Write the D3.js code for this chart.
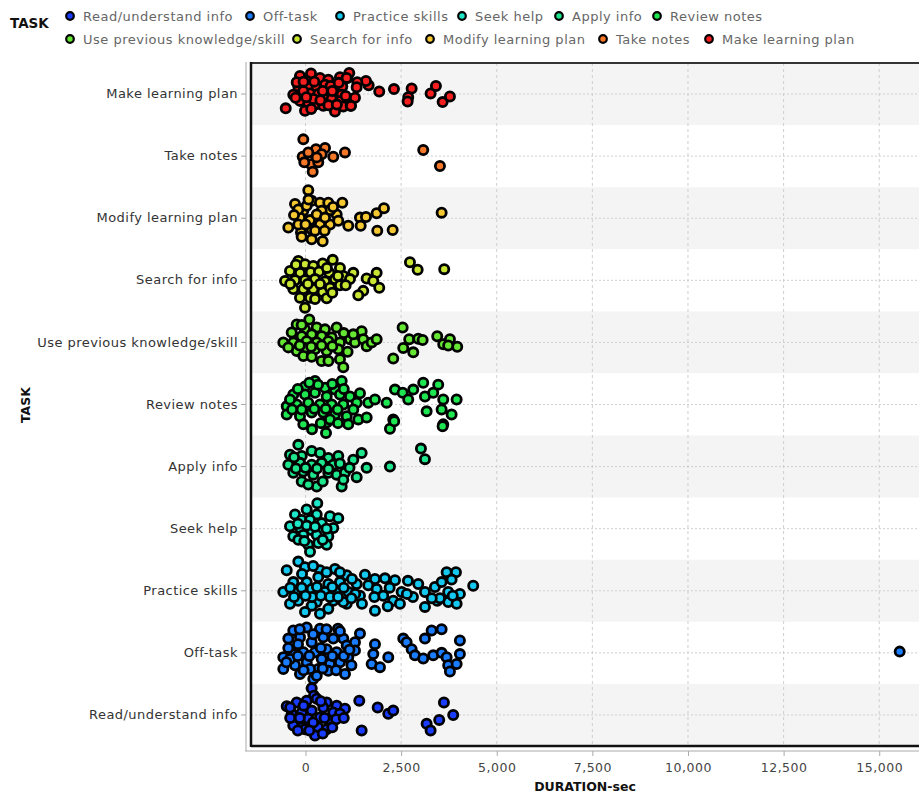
<!DOCTYPE html>
<html><head><meta charset="utf-8">
<script src="https://cdn.jsdelivr.net/npm/d3@7"></script>
<style>
html,body{margin:0;padding:0;background:#fff;}
svg{display:block;font-family:"DejaVu Sans",sans-serif;}
</style></head>
<body>
<svg id="chart" width="919" height="798"></svg>
<script>
// ---------- DATA ----------
const categories = ["Make learning plan","Take notes","Modify learning plan","Search for info",
  "Use previous knowledge/skill","Review notes","Apply info","Seek help","Practice skills",
  "Off-task","Read/understand info"];
const legendOrder = ["Read/understand info","Off-task","Practice skills","Seek help","Apply info",
  "Review notes","Use previous knowledge/skill","Search for info","Modify learning plan","Take notes","Make learning plan"];
const colors = ["#1a3cff","#1a7dff","#14c8f0","#1ee6c8","#1ee68c","#1ee650","#64e632","#c8e632","#f5c832","#f57828","#f51e1e"];
const xTicks = [0,2500,5000,7500,10000,12500,15000];

// each point: [duration in seconds, jitter (fraction of the row)]
const makePlan = [[-144,-0.29],[144,-0.33],[379,-0.26],[596,-0.23],[901,-0.27],[1092,-0.26],[31,-0.21],[-188,-0.12],[73,-0.11],[293,-0.11],[510,-0.15],[658,-0.13],[815,-0.06],[962,-0.12],[-319,0.01],[-99,0],[118,-0.01],[334,0],[536,0.04],[745,-0.02],[946,0.01],[-144,0.11],[73,0.15],[293,0.16],[510,0.08],[685,0.08],[920,0.11],[1118,0.11],[-13,0.27],[248,0.17],[771,0.28],[988,0.2],[1181,0.19],[465,0.19],[-230,-0.19],[-57,-0.05],[204,0.08],[-517,0.23],[1928,-0.04],[2313,-0.08],[2775,-0.09],[2686,0.05],[2670,0.12],[3271,-0.01],[3410,-0.13],[3585,0.13],[3776,0.04],[1651,-0.14],[1581,-0.21],[1354,-0.19],[1338,-0.11],[1293,0.06],[1189,0.19],[1144,-0.34],[1077,-0.26],
  [-50,-0.2],[230,-0.2],[450,-0.05],[700,-0.05],[870,-0.18],[-260,0.06],[20,0.05],[390,0.1],[600,0.18],[820,0.17],[150,0.24],[1050,0.03]];
const takeNotes = [[-57,-0.27],[274,-0.11],[510,-0.13],[726,0.01],[1032,-0.06],[-73,0.01],[144,0.13],[334,0.1],[188,0.25],[-31,0.1],[423,-0.03],[3078,-0.1],[3515,0.16],[73,-0.06],[293,0.02]];
const modifyPlan = [[73,-0.45],[-274,-0.23],[-57,-0.12],[162,-0.28],[379,-0.25],[596,-0.25],[962,-0.25],[815,-0.06],[640,-0.13],[423,-0.12],[118,0.03],[-144,-0.01],[-449,0.15],[-118,0.23],[162,0.18],[379,0.1],[640,0.1],[857,0.04],[1118,0.12],[1424,-0.01],[1442,0.12],[1581,-0.02],[1860,-0.08],[2051,-0.16],[1876,0.2],[2279,0.19],[3559,-0.09],[162,0.34],[449,0.37],[-188,-0.14],[31,-0.2],[293,-0.06],[510,-0.01],[-188,0.1],
  [-300,-0.05],[0,0.1],[250,0.2],[500,0.2],[720,-0.18],[80,-0.3],[-100,0.3]];
const searchInfo = [[-188,-0.31],[-13,-0.26],[204,-0.23],[449,-0.27],[711,-0.33],[901,-0.2],[-405,-0.15],[-144,-0.12],[136,-0.13],[353,-0.14],[622,-0.12],[1249,-0.12],[988,-0.07],[-536,0.01],[-274,0],[-13,0],[248,-0.02],[510,0.02],[771,-0.02],[1163,-0.02],[-319,0.14],[-57,0.14],[204,0.14],[449,0.19],[640,0.12],[901,0.08],[-144,0.28],[118,0.28],[554,0.29],[-13,0.44],[1599,-0.03],[1860,-0.12],[1772,0.01],[1928,0.12],[1510,0.17],[1380,0.24],[2731,-0.29],[2932,-0.17],[3627,-0.18],
  [-400,0.06],[60,0.06],[380,0.06],[700,0.2],[1050,0.08],[-250,-0.25],[560,-0.2],[850,-0.07],[250,0.3]];
const usePrevious = [[99,-0.37],[-230,-0.29],[-13,-0.21],[293,-0.24],[510,-0.21],[815,-0.24],[-361,-0.16],[-99,-0.1],[162,-0.13],[423,-0.1],[685,-0.08],[-580,0],[-319,0],[31,-0.02],[293,0],[596,-0.02],[901,0],[1163,-0.05],[1293,0],[1468,-0.18],[1249,-0.13],[1510,-0.05],[1599,0.06],[1730,0],[1860,-0.05],[-230,0.14],[-13,0.09],[248,0.11],[554,0.14],[857,0.11],[-57,0.22],[162,0.23],[423,0.3],[901,0.27],[988,0.4],[2540,-0.24],[2712,-0.05],[2948,-0.06],[3062,-0.04],[2556,0.09],[2817,0.16],[2294,0.26],[3444,-0.1],[3601,0.03],[3776,-0.05],[3967,0.07],[3731,0.05],
  [-450,0.08],[-150,0.05],[150,0.07],[420,0.05],[700,0.06],[1000,-0.15],[-100,-0.28],[600,0.3],[1100,0.15]];
const reviewNotes = [[248,-0.38],[946,-0.38],[-13,-0.29],[510,-0.27],[771,-0.24],[-319,-0.16],[-13,-0.16],[248,-0.19],[554,-0.13],[901,-0.16],[1424,-0.18],[1163,-0.13],[-491,0.03],[-230,0],[73,-0.03],[379,0],[685,0],[988,0],[1338,-0.03],[1641,-0.03],[1816,-0.08],[2122,-0.03],[2339,-0.24],[2540,-0.19],[2817,-0.24],[3078,-0.35],[3470,-0.32],[2686,-0.08],[3123,-0.13],[3339,-0.19],[3601,-0.08],[3951,-0.08],[3167,0.11],[3559,0.08],[3820,0.16],[-491,0.16],[-144,0.19],[162,0.13],[465,0.13],[771,0.16],[1077,0.19],[1380,0.24],[1599,0.21],[2294,0.24],[3601,0.32],[-57,0.32],[554,0.29],[536,0.46],[2208,0.39],[2320,0.27],[3585,0.35],[1118,0.32],[-405,-0.08],[327,-0.32],[640,0.24],[170,0.4],
  [-350,0.08],[-100,0.08],[230,0.07],[530,0.07],[840,0.08],[1250,0.08],[-200,-0.25],[100,-0.35],[700,-0.33],[1000,-0.25],[400,0.3],[850,0.3]];
const applyInfo = [[-188,-0.35],[162,-0.25],[379,-0.22],[-405,-0.19],[-99,-0.17],[596,-0.14],[857,-0.17],[1468,-0.22],[1249,-0.11],[-449,-0.03],[-144,-0.06],[162,-0.03],[423,-0.06],[726,-0.03],[1599,0.02],[2208,0],[-319,0.1],[-57,0.08],[204,0.13],[596,0.1],[815,0.13],[1032,0.1],[1338,0.17],[-99,0.24],[293,0.32],[946,0.32],[988,0.21],[73,0.29],[3018,-0.29],[3123,-0.12],
  [-250,0.03],[0,0.02],[300,0.03],[600,0.04],[900,-0.05],[-300,-0.15],[450,0.24],[1150,0.02]];
const seekHelp = [[308,-0.41],[31,-0.31],[-274,-0.23],[293,-0.23],[640,-0.2],[857,-0.17],[-99,-0.14],[118,-0.14],[423,-0.09],[-405,-0.04],[-144,-0.01],[162,0.02],[423,0.04],[726,-0.01],[-319,0.12],[-57,0.1],[293,0.1],[596,0.12],[-188,0.18],[73,0.26],[334,0.23],[554,0.26],[118,0.37],
  [-200,-0.08],[30,-0.05],[250,-0.03],[550,0],[-30,0.2],[450,0.18]];
const practiceSkills = [[-188,-0.47],[-491,-0.33],[-13,-0.38],[379,-0.33],[771,-0.35],[1077,-0.25],[1555,-0.26],[1816,-0.19],[2077,-0.2],[2339,-0.17],[-319,-0.14],[31,-0.14],[334,-0.22],[596,-0.11],[901,-0.14],[1338,-0.11],[1641,-0.09],[1860,-0.03],[-580,0.02],[-230,0],[162,-0.03],[510,0.02],[815,0],[1118,0.02],[1424,0.08],[2033,0.08],[2514,0.02],[2948,-0.11],[3123,0.02],[3384,-0.06],[3559,-0.14],[3690,-0.3],[3933,-0.3],[3731,0.02],[4037,0.05],[4385,-0.08],[-188,0.16],[293,0.18],[726,0.16],[1077,0.21],[2294,0.16],[3444,0.16],[162,0.24],[379,0.37],[-13,0.34],[596,0.29],[988,0.18],[1816,0.32],[2469,0.21],[3123,0.26],[3731,0.18],[3951,0.21],[3515,0.12],[3820,-0.18],[-91,-0.27],[170,0.1],[640,0.1],[1215,-0.19],[1476,0.21],[-405,0.21],[2678,-0.16],[2809,0.1],
  [-400,-0.05],[-100,-0.05],[300,-0.06],[700,-0.06],[1000,-0.05],[1300,0.05],[-300,0.1],[0,0.08],[400,0.08],[850,0.1],[1200,0.12],[200,-0.4],[550,-0.3],[900,-0.3],[1800,0.1],[2200,-0.05],[2150,0.25],[2650,0.05],[3300,0.12],[3850,0.08]];
const offTask = [[-319,-0.36],[31,-0.41],[379,-0.39],[726,-0.23],[-449,-0.23],[-144,-0.25],[162,-0.17],[465,-0.25],[988,-0.23],[1077,-0.12],[1293,-0.17],[-580,0.07],[-319,0.02],[-57,-0.01],[248,-0.01],[554,-0.06],[815,-0.01],[1293,-0.04],[-580,0.26],[-274,0.2],[31,0.15],[334,0.26],[640,0.18],[901,0.15],[1118,0.07],[-144,0.34],[204,0.42],[596,0.29],[1032,0.34],[-405,0.1],[423,0.1],[1424,-0.31],[1816,-0.14],[1772,0.02],[1730,0.18],[1947,0.23],[2164,0.07],[2556,-0.23],[2644,-0.17],[2775,-0.06],[2861,0.04],[3078,0.09],[3123,-0.23],[3298,-0.36],[3559,-0.38],[3339,0.04],[3559,0],[3690,0.07],[4037,-0.2],[4037,0.02],[3731,0.2],[3951,0.18],[3776,0.3],[293,0.37],[15535,-0.02],[-196,-0.14],[118,0.26],[849,-0.39],
  [-450,-0.08],[-200,0.05],[100,0.05],[400,-0.08],[700,0.05],[1000,0.05],[1150,-0.05],[-500,0.15],[-50,0.28],[450,0.25],[800,0.28],[-150,-0.38],[550,-0.38],[200,-0.3],[900,-0.35],[1200,0.2]];
const readInfo = [[162,-0.43],[222,-0.31],[-491,-0.14],[-230,-0.2],[31,-0.23],[293,-0.26],[554,-0.2],[815,-0.15],[1032,-0.1],[-361,-0.02],[-99,-0.04],[162,-0.07],[465,-0.12],[726,-0.04],[901,-0.02],[-230,0.12],[73,0.06],[379,0.04],[640,0.09],[-99,0.2],[334,0.2],[554,0.23],[248,0.33],[-319,0.17],[1406,-0.23],[1468,0.25],[1887,-0.12],[2164,-0.02],[2294,-0.07],[3167,0.14],[3271,0.25],[3496,0.08],[3619,-0.2],[3862,0],[-13,0.23],
  [-400,0.05],[-150,0.05],[200,0.12],[500,0.05],[800,0.07],[1000,0.05],[-400,-0.12],[-50,-0.15],[400,-0.22],[700,0.2],[100,0.25],[-200,0.25],[450,0.3]];

const seriesByCat = {
  "Make learning plan": makePlan, "Take notes": takeNotes, "Modify learning plan": modifyPlan,
  "Search for info": searchInfo, "Use previous knowledge/skill": usePrevious, "Review notes": reviewNotes,
  "Apply info": applyInfo, "Seek help": seekHelp, "Practice skills": practiceSkills,
  "Off-task": offTask, "Read/understand info": readInfo
};

// ---------- LAYOUT ----------
const plot = {left:251, right:919, top:63, bottom:746};
const svg = d3.select("#chart");
const x = d3.scaleLinear().domain([-1425,16040]).range([plot.left, plot.right]);
const y = d3.scaleBand().domain(categories).range([plot.top, plot.bottom]);
const color = d3.scaleOrdinal().domain(legendOrder).range(colors);

// bands
svg.append("g").selectAll("rect").data(categories).join("rect")
  .attr("x", plot.left).attr("width", plot.right - plot.left)
  .attr("y", d => y(d)).attr("height", y.bandwidth())
  .attr("fill", (d,i) => i % 2 === 0 ? "#f4f4f4" : "#ffffff");

// grid
svg.append("g").selectAll("line").data(xTicks).join("line")
  .attr("x1", d => x(d)).attr("x2", d => x(d)).attr("y1", plot.top).attr("y2", plot.bottom)
  .attr("stroke", "#cfcfcf").attr("stroke-dasharray", "3,3").attr("stroke-width", 1);
svg.append("g").selectAll("line").data(categories).join("line")
  .attr("x1", plot.left).attr("x2", plot.right)
  .attr("y1", d => y(d) + y.bandwidth()/2).attr("y2", d => y(d) + y.bandwidth()/2)
  .attr("stroke", "#cfcfcf").attr("stroke-dasharray", "2,2").attr("stroke-width", 1);

// points
const pts = [];
categories.forEach(c => seriesByCat[c].forEach(p => pts.push({cat:c, v:p[0], j:p[1]})));
svg.append("g").selectAll("circle").data(pts).join("circle")
  .attr("cx", d => x(d.v))
  .attr("cy", d => y(d.cat) + y.bandwidth()/2 + d.j * y.bandwidth())
  .attr("r", 4.6)
  .attr("fill", d => color(d.cat))
  .attr("stroke", "#000").attr("stroke-width", 2.8);

// frame
svg.append("line").attr("x1", plot.left).attr("x2", plot.right).attr("y1", plot.top).attr("y2", plot.top)
  .attr("stroke", "#333").attr("stroke-width", 2);
svg.append("line").attr("x1", plot.left).attr("x2", plot.right).attr("y1", plot.bottom).attr("y2", plot.bottom)
  .attr("stroke", "#111").attr("stroke-width", 2.5);
svg.append("line").attr("x1", plot.left).attr("x2", plot.left).attr("y1", plot.top-1).attr("y2", plot.bottom+1)
  .attr("stroke", "#111").attr("stroke-width", 2.5);

// axes
const xAxis = svg.append("g").attr("transform", `translate(0,${plot.bottom+5})`)
  .call(d3.axisBottom(x).tickValues(xTicks).tickFormat(d3.format(",")).tickSize(5).tickSizeOuter(0));
xAxis.select(".domain").attr("d", `M${plot.left-6},0H${plot.right}`).attr("stroke", "#aaa");
xAxis.selectAll(".tick line").attr("stroke", "#aaa");
xAxis.selectAll("text").attr("fill", "#444").attr("font-size", 12.5).attr("font-family", "DejaVu Sans")
  .attr("letter-spacing", "0.5px").attr("dy", "1.05em");

const yAxis = svg.append("g").attr("transform", `translate(${plot.left-5},0)`)
  .call(d3.axisLeft(y).tickSize(5).tickSizeOuter(0).tickPadding(3));
yAxis.select(".domain").attr("d", `M0,${plot.top-1}V${plot.bottom+5}`).attr("stroke", "#aaa");
yAxis.selectAll(".tick line").attr("stroke", "#aaa");
yAxis.selectAll("text").attr("fill", "#333").attr("font-size", 13).attr("font-family", "DejaVu Sans")
  .attr("letter-spacing", "0.45px");

// axis titles
svg.append("text").attr("x", 585).attr("y", 791).attr("text-anchor", "middle")
  .attr("font-weight", "bold").attr("font-size", 12.5).attr("fill", "#111").text("DURATION-sec");
svg.append("text").attr("transform", "translate(30,405) rotate(-90)").attr("text-anchor", "middle")
  .attr("font-weight", "bold").attr("font-size", 12.5).attr("fill", "#111").text("TASK");

// legend
svg.append("text").attr("x", 10).attr("y", 28).attr("font-weight", "bold").attr("font-size", 13.5)
  .attr("fill", "#111").text("TASK");
const legendPos = [[70,16],[250,16],[340,16],[462,16],[559,16],[657,16],[70,39],[297,39],[430,39],[603,39],[709,39]];
const lg = svg.append("g").selectAll("g").data(legendOrder).join("g")
  .attr("transform", (d,i) => `translate(${legendPos[i][0]},${legendPos[i][1]})`);
lg.append("circle").attr("r", 3.8).attr("fill", d => color(d)).attr("stroke", "#000").attr("stroke-width", 2.2);
lg.append("text").attr("x", 13).attr("dy", "0.35em").attr("font-size", 13).attr("letter-spacing", "0.5px")
  .attr("fill", "#666").text(d => d);
</script>
</body></html>
